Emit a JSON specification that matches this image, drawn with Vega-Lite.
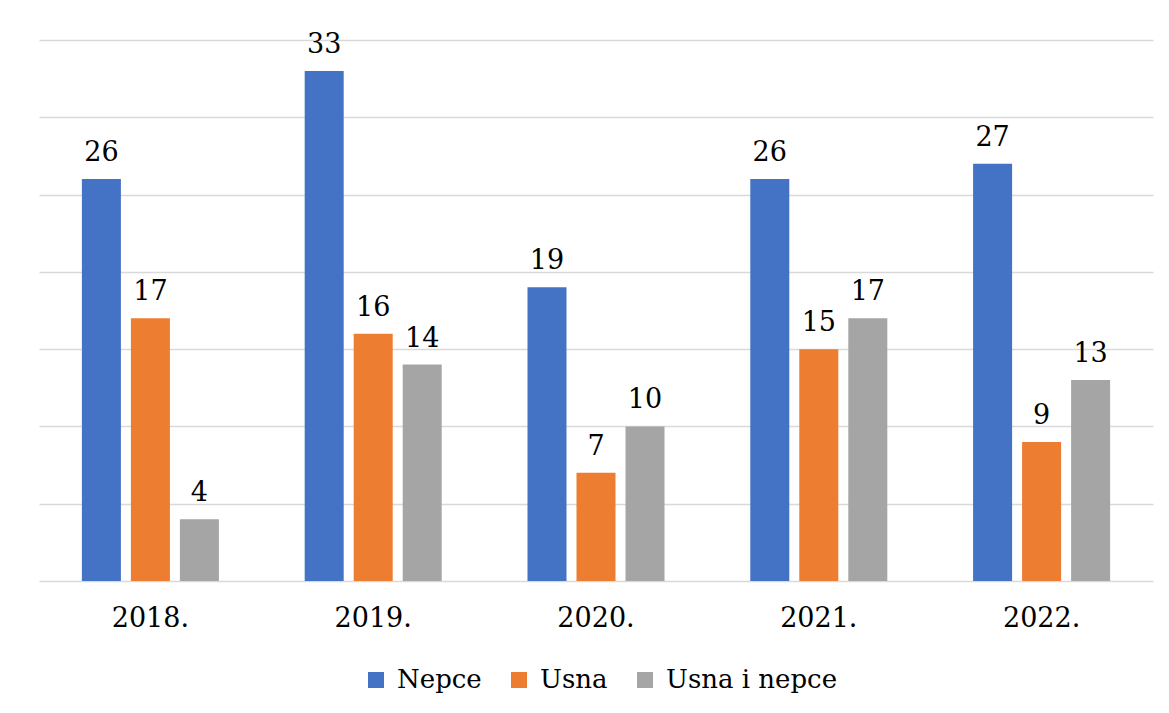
{
  "$schema": "https://vega.github.io/schema/vega-lite/v6.json",
  "autosize": {"type": "none"},
  "width": 1114,
  "height": 541,
  "padding": {"left": 39, "top": 40, "right": 16, "bottom": 132},
  "background": "white",
  "config": {
    "view": {"stroke": null},
    "font": "DejaVu Serif",
    "axis": {"labelFont": "DejaVu Serif", "gridColor": "#d9d9d9", "gridWidth": 1.5},
    "legend": {"labelFont": "DejaVu Serif"}
  },
  "data": {
    "values": [
      {"year": "2018.", "series": "Nepce", "value": 26},
      {"year": "2018.", "series": "Usna", "value": 17},
      {"year": "2018.", "series": "Usna i nepce", "value": 4},
      {"year": "2019.", "series": "Nepce", "value": 33},
      {"year": "2019.", "series": "Usna", "value": 16},
      {"year": "2019.", "series": "Usna i nepce", "value": 14},
      {"year": "2020.", "series": "Nepce", "value": 19},
      {"year": "2020.", "series": "Usna", "value": 7},
      {"year": "2020.", "series": "Usna i nepce", "value": 10},
      {"year": "2021.", "series": "Nepce", "value": 26},
      {"year": "2021.", "series": "Usna", "value": 15},
      {"year": "2021.", "series": "Usna i nepce", "value": 17},
      {"year": "2022.", "series": "Nepce", "value": 27},
      {"year": "2022.", "series": "Usna", "value": 9},
      {"year": "2022.", "series": "Usna i nepce", "value": 13}
    ]
  },
  "encoding": {
    "x": {
      "field": "year", "type": "nominal", "title": null,
      "scale": {"paddingInner": 0.385, "paddingOuter": 0.1925},
      "axis": {"labelAngle": 0, "labelFontSize": 27, "labelColor": "black", "ticks": false, "domain": false, "labelPadding": 24}
    },
    "xOffset": {"field": "series", "type": "nominal", "scale": {"paddingInner": 0.204, "paddingOuter": 0}},
    "y": {
      "field": "value", "type": "quantitative", "title": null,
      "scale": {"domain": [0, 35], "nice": false},
      "axis": {"values": [0, 5, 10, 15, 20, 25, 30, 35], "labels": false, "ticks": false, "domain": false, "grid": true}
    }
  },
  "layer": [
    {
      "mark": {"type": "bar"},
      "encoding": {
        "color": {
          "field": "series", "type": "nominal",
          "scale": {"domain": ["Nepce", "Usna", "Usna i nepce"], "range": ["#4472C4", "#ED7D31", "#A5A5A5"]},
          "legend": {
            "title": null, "orient": "none", "legendX": 324, "legendY": 627, "direction": "horizontal",
            "symbolType": "square", "symbolSize": 256, "symbolStrokeWidth": 0, "labelLimit": 400,
            "labelFontSize": 26, "labelColor": "black", "labelOffset": 8, "columnPadding": 24
          }
        }
      }
    },
    {
      "mark": {"type": "text", "baseline": "alphabetic", "dy": -18, "fontSize": 27, "color": "black"},
      "encoding": {"text": {"field": "value", "type": "quantitative"}}
    }
  ]
}
